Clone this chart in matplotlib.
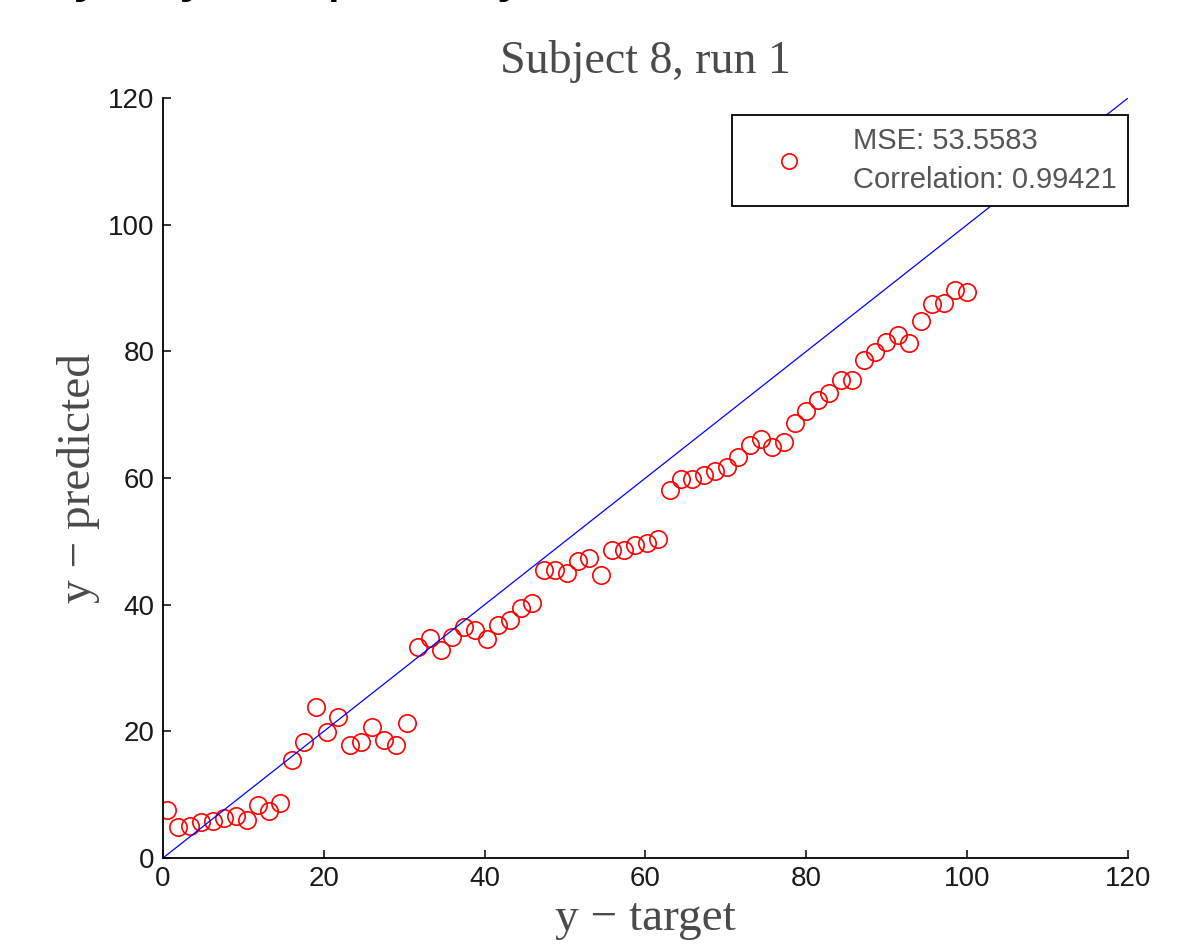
import matplotlib
matplotlib.use("Agg")
import matplotlib.pyplot as plt

# target vs predicted values
y_target = [0.5, 1.9, 3.4, 4.7, 6.2, 7.6, 9.1, 10.4, 11.8, 13.2, 14.6,
            16.0, 17.5, 19.0, 20.4, 21.8, 23.3, 24.6, 26.0, 27.5, 29.0,
            30.3, 31.7, 33.2, 34.6, 35.9, 37.4, 38.8, 40.3, 41.7, 43.1,
            44.5, 45.9, 47.4, 48.8, 50.2, 51.6, 53.0, 54.5, 55.8, 57.3,
            58.7, 60.2, 61.6, 63.0, 64.4, 65.8, 67.3, 68.6, 70.1, 71.5,
            73.0, 74.4, 75.7, 77.2, 78.6, 80.0, 81.5, 82.8, 84.3, 85.7,
            87.2, 88.5, 89.9, 91.4, 92.8, 94.3, 95.6, 97.1, 98.5, 100.0]
y_predicted = [7.6, 4.9, 5.1, 5.7, 5.8, 6.3, 6.6, 6.0, 8.4, 7.4, 8.7,
               15.5, 18.3, 23.8, 19.9, 22.3, 17.8, 18.3, 20.7, 18.6, 17.8,
               21.3, 33.3, 34.7, 32.8, 34.9, 36.5, 36.0, 34.6, 36.8, 37.6,
               39.5, 40.3, 45.5, 45.5, 45.0, 46.9, 47.4, 44.7, 48.6, 48.6,
               49.4, 49.7, 50.4, 58.1, 59.8, 59.8, 60.5, 61.1, 61.7, 63.3,
               65.2, 66.2, 64.9, 65.7, 68.7, 70.6, 72.3, 73.4, 75.5, 75.5,
               78.6, 79.9, 81.5, 82.6, 81.3, 84.8, 87.5, 87.6, 89.7, 89.4]
ideal = [0, 120]
ticks = [0, 20, 40, 60, 80, 100, 120]
legend_label = "MSE: 53.5583\nCorrelation: 0.99421"

sans = "Liberation Sans"
serif = "Liberation Serif"
grey = "#4a4a4a"

fig = plt.figure(figsize=(11.98, 9.46), dpi=100)
ax = fig.add_axes([0.136, 0.093, 0.8056, 0.8034])

ax.plot(y_target, y_predicted, linestyle="none", marker="o", markersize=12.5,
        markerfacecolor="none", markeredgecolor="#ff0000", markeredgewidth=1.2,
        label=legend_label)
ax.plot(ideal, ideal, color="#0000ff", linewidth=0.9)

ax.set_xlim(0, 120)
ax.set_ylim(0, 120)
ax.set_xticks(ticks)
ax.set_yticks(ticks)
for s in ["top", "right"]:
    ax.spines[s].set_visible(False)
for s in ["left", "bottom"]:
    ax.spines[s].set_linewidth(1.3)
ax.tick_params(direction="in", length=6, width=1.1, pad=6, labelsize=20)
for lab in ax.get_xticklabels() + ax.get_yticklabels():
    lab.set_family(sans)
    lab.set_color("#1a1a1a")

ax.set_title("Subject 8, run 1", family=serif, fontsize=33, color=grey, pad=18)
ax.set_xlabel("y \u2212 target", family=serif, fontsize=34, color=grey, labelpad=4)
ax.set_ylabel("y \u2212 predicted", family=serif, fontsize=34, color=grey, labelpad=6)

leg = ax.legend(loc="upper right", bbox_to_anchor=(1.0, 0.977),
                prop={"family": sans, "size": 21}, fancybox=False,
                framealpha=1, edgecolor="black", handletextpad=0.62,
                borderpad=0.4, handlelength=3.1, borderaxespad=0)
leg.get_frame().set_linewidth(1.3)
for t in leg.get_texts():
    t.set_color("#555555")
    t.set_linespacing(1.5)
leg.legend_handles[0].set_markersize(11)

# descenders of a larger heading cropped off at the top of the image
for ch, xp in [("y", 0.062), ("y", 0.150), ("p", 0.272), ("j", 0.418)]:
    fig.text(xp, 1.012, ch, family=sans, fontsize=44,
             color="black", ha="left", va="baseline")

fig.savefig("out.png", dpi=100)
